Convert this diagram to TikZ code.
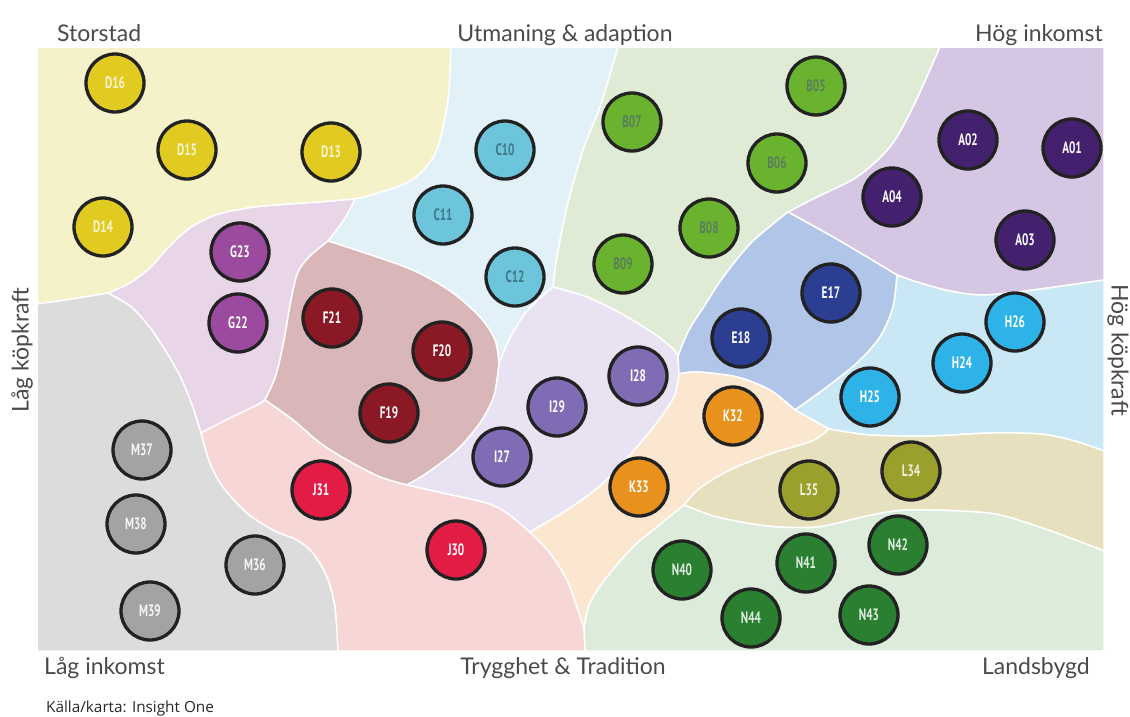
\documentclass[tikz,border=0pt]{standalone}
\usepackage{fontspec}
\newfontfamily\axisfont{Lato}
\newfontfamily\circfont[FakeStretch=0.68]{PT Sans Bold}
\newfontfamily\srcfont{Open Sans}

\definecolor{rD}{HTML}{F5F2C9}
\definecolor{rC}{HTML}{E2F1F8}
\definecolor{rB}{HTML}{E0EBD6}
\definecolor{rA}{HTML}{D5C6E3}
\definecolor{rG}{HTML}{E9D5E8}
\definecolor{rF}{HTML}{D9B6B7}
\definecolor{rI}{HTML}{E8E2F2}
\definecolor{rE}{HTML}{B0C5E8}
\definecolor{rH}{HTML}{C9E7F5}
\definecolor{rK}{HTML}{FBE7D0}
\definecolor{rL}{HTML}{E6E0BE}
\definecolor{rN}{HTML}{DDEBDA}
\definecolor{rJ}{HTML}{F7D6D6}
\definecolor{rM}{HTML}{DCDCDC}

\definecolor{cD}{HTML}{E1CB21}
\definecolor{cG}{HTML}{9C4A9E}
\definecolor{cF}{HTML}{8A1825}
\definecolor{cC}{HTML}{6CC5DB}
\definecolor{cB}{HTML}{6AB32E}
\definecolor{cA}{HTML}{44216F}
\definecolor{cE}{HTML}{2C3E91}
\definecolor{cH}{HTML}{2EB3E8}
\definecolor{cI}{HTML}{7F6CB5}
\definecolor{cK}{HTML}{E8911C}
\definecolor{cJ}{HTML}{E31C45}
\definecolor{cL}{HTML}{9B9F2B}
\definecolor{cN}{HTML}{2A7F30}
\definecolor{cM}{HTML}{A3A3A3}
\definecolor{tB}{HTML}{5A7D5C}
\definecolor{tC}{HTML}{3F7688}
\definecolor{ring}{HTML}{222222}
\definecolor{axis}{HTML}{4A4A4A}

\tikzset{
  zone/.style={draw=white, line width=1.5pt, line join=round},
  seg/.style={circle, minimum size=58pt, inner sep=0pt, line width=3.3pt,
    draw=ring, text=white, font=\circfont\fontsize{16.5}{16.5}\selectfont},
  grpD/.style={seg, fill=cD, text=white!80!cD},
  grpG/.style={seg, fill=cG},
  grpF/.style={seg, fill=cF},
  grpC/.style={seg, fill=cC, text=tC},
  grpB/.style={seg, fill=cB, text=tB},
  grpA/.style={seg, fill=cA},
  grpE/.style={seg, fill=cE},
  grpH/.style={seg, fill=cH},
  grpI/.style={seg, fill=cI},
  grpK/.style={seg, fill=cK},
  grpJ/.style={seg, fill=cJ},
  grpL/.style={seg, fill=cL, text=white!85!cL},
  grpN/.style={seg, fill=cN, text=white!85!cN},
  grpM/.style={seg, fill=cM, text=white!90!cM},
  axislabel/.style={text=axis, font=\axisfont\fontsize{23}{23}\selectfont, inner sep=0pt}
}

\begin{document}
\begin{tikzpicture}[x=1pt, y=-1pt]
  \useasboundingbox (0,0) rectangle (1130,716);

  % zones
  \fill[rD, zone] (37,47)
    -- plot[smooth] coordinates {(451,47) (448,100) (436,152) (412,180) (375,194) (355,199)}
    -- plot[smooth] coordinates {(355,199) (320,202) (255,207) (216,215) (190,228) (168,248) (150,268) (130,283) (108,293)}
    -- plot[smooth] coordinates {(108,293) (72,299) (37,304)} -- cycle;
  \fill[rC, zone] (451,47)
    -- plot[smooth] coordinates {(618,47) (600,107) (583,150) (567,207) (557,257) (553,287)}
    -- plot[smooth] coordinates {(553,287) (528,310) (510,338) (499,364)}
    -- plot[smooth] coordinates {(499,364) (495,340) (480,317) (453,293) (425,276) (400,265) (362,252) (328,241)}
    -- plot[smooth] coordinates {(328,241) (345,218) (355,199)}
    -- plot[smooth] coordinates {(355,199) (375,194) (412,180) (436,152) (448,100) (451,47)} -- cycle;
  \fill[rB, zone] (618,47)
    -- plot[smooth] coordinates {(940,47) (913,107) (890,147) (857,177) (817,197) (788,212)}
    -- plot[smooth] coordinates {(788,212) (752,242) (724,276) (705,305) (689,330) (678,356)}
    -- plot[smooth] coordinates {(678,356) (672,348) (653,333) (620,313) (587,297) (553,287)}
    -- plot[smooth] coordinates {(553,287) (557,257) (567,207) (583,150) (600,107) (618,47)} -- cycle;
  \fill[rA, zone] (940,47) -- (1104,47)
    -- plot[smooth] coordinates {(1104,280) (1033,290) (983,295) (950,291) (920,283) (897,275)}
    -- plot[smooth] coordinates {(897,275) (867,257) (833,237) (788,212)}
    -- plot[smooth] coordinates {(788,212) (817,197) (857,177) (890,147) (913,107) (940,47)} -- cycle;
  \fill[rG, zone]
    plot[smooth] coordinates {(355,199) (345,218) (328,241)}
    -- plot[smooth] coordinates {(328,241) (310,256) (298,272) (291,300) (284,340) (276,375) (265,400)}
    -- plot[smooth] coordinates {(265,400) (257,405) (230,418) (201,433)}
    -- plot[smooth] coordinates {(201,433) (192,405) (180,376) (165,350) (148,325) (130,306) (108,293)}
    -- plot[smooth] coordinates {(108,293) (130,283) (150,268) (168,248) (190,228) (216,215) (255,207) (320,202) (355,199)} -- cycle;
  \fill[rF, zone]
    plot[smooth] coordinates {(328,241) (362,252) (400,265) (425,276) (453,293) (480,317) (495,340) (499,364)}
    -- plot[smooth] coordinates {(499,364) (494,396) (480,423) (457,450) (427,473) (407,485)}
    -- plot[smooth] coordinates {(407,485) (380,477) (347,460) (320,443) (293,420) (265,400)}
    -- plot[smooth] coordinates {(265,400) (276,375) (284,340) (291,300) (298,272) (310,256) (328,241)} -- cycle;
  \fill[rM, zone] (37,304) -- (37,651)
    -- plot[smooth] coordinates {(338,651) (335,607) (327,577) (313,553) (297,540) (273,530) (247,513) (223,487) (210,463) (201,433)}
    -- plot[smooth] coordinates {(201,433) (192,405) (180,376) (165,350) (148,325) (130,306) (108,293)}
    -- plot[smooth] coordinates {(108,293) (72,299) (37,304)} -- cycle;
  \fill[rJ, zone]
    plot[smooth] coordinates {(201,433) (210,463) (223,487) (247,513) (273,530) (297,540) (313,553) (327,577) (335,607) (338,651)}
    -- (585,651) -- (584,628)
    -- plot[smooth] coordinates {(584,628) (578,610) (567,580) (550,553) (530,532)}
    -- plot[smooth] coordinates {(530,532) (507,513) (487,503) (443,493) (407,485)}
    -- plot[smooth] coordinates {(407,485) (380,477) (347,460) (320,443) (293,420) (265,400)}
    -- plot[smooth] coordinates {(265,400) (257,405) (230,418) (201,433)} -- cycle;
  \fill[rI, zone]
    plot[smooth] coordinates {(499,364) (494,396) (480,423) (457,450) (427,473) (407,485)}
    -- plot[smooth] coordinates {(407,485) (443,493) (487,503) (507,513) (530,532)}
    -- plot[smooth] coordinates {(530,532) (567,510) (600,486) (630,455) (655,425) (674,397) (679,374)}
    -- (678,356)
    -- plot[smooth] coordinates {(678,356) (672,348) (653,333) (620,313) (587,297) (553,287)}
    -- plot[smooth] coordinates {(553,287) (528,310) (510,338) (499,364)} -- cycle;
  \fill[rE, zone]
    plot[smooth] coordinates {(788,212) (752,242) (724,276) (705,305) (689,330) (678,356)}
    -- (679,374)
    -- plot[smooth] coordinates {(679,374) (697,372) (737,377) (770,390) (795,410)}
    -- plot[smooth] coordinates {(795,410) (827,387) (857,363) (880,337) (893,307) (897,275)}
    -- plot[smooth] coordinates {(897,275) (867,257) (833,237) (788,212)} -- cycle;
  \fill[rH, zone]
    plot[smooth] coordinates {(897,275) (920,283) (950,291) (983,295) (1033,290) (1104,280)}
    -- (1104,451)
    -- plot[smooth] coordinates {(1104,451) (1075,441) (1040,434) (990,433) (930,436) (870,435) (829,429)}
    -- (795,410)
    -- plot[smooth] coordinates {(795,410) (827,387) (857,363) (880,337) (893,307) (897,275)} -- cycle;
  \fill[rK, zone]
    plot[smooth] coordinates {(679,374) (697,372) (737,377) (770,390) (795,410)}
    -- (829,429)
    -- plot[smooth] coordinates {(829,429) (812,441) (770,454) (730,470) (700,488) (684,505)}
    -- plot[smooth] coordinates {(684,505) (657,527) (633,547) (607,577) (590,603) (584,628)}
    -- plot[smooth] coordinates {(584,628) (578,610) (567,580) (550,553) (530,532)}
    -- plot[smooth] coordinates {(530,532) (567,510) (600,486) (630,455) (655,425) (674,397) (679,374)} -- cycle;
  \fill[rL, zone]
    plot[smooth] coordinates {(829,429) (870,435) (930,436) (990,433) (1040,434) (1075,441) (1104,451)}
    -- (1104,551)
    -- plot[smooth] coordinates {(1104,551) (1051,531) (1000,515) (960,511) (905,510) (867,516) (817,527) (767,526) (717,517) (684,505)}
    -- plot[smooth] coordinates {(684,505) (700,488) (730,470) (770,454) (812,441) (829,429)} -- cycle;
  \fill[rN, zone]
    plot[smooth] coordinates {(684,505) (717,517) (767,526) (817,527) (867,516) (905,510) (960,511) (1000,515) (1051,531) (1104,551)}
    -- (1104,651) -- (585,651) -- (584,628)
    -- plot[smooth] coordinates {(584,628) (590,603) (607,577) (633,547) (657,527) (684,505)} -- cycle;

  % segments
  \path
    (115,83) node[grpD] (D16) {D16}
    (187,150) node[grpD] (D15) {D15}
    (331,152) node[grpD] (D13) {D13}
    (103,227) node[grpD] (D14) {D14}
    (240,252) node[grpG] (G23) {G23}
    (238,323) node[grpG] (G22) {G22}
    (332,318) node[grpF] (F21) {F21}
    (442,351) node[grpF] (F20) {F20}
    (389,413) node[grpF] (F19) {F19}
    (505,150) node[grpC] (C10) {C10}
    (443,215) node[grpC] (C11) {C11}
    (515,277) node[grpC] (C12) {C12}
    (632,122) node[grpB] (B07) {B07}
    (816,86) node[grpB] (B05) {B05}
    (777,163) node[grpB] (B06) {B06}
    (709,228) node[grpB] (B08) {B08}
    (623,264) node[grpB] (B09) {B09}
    (968,140) node[grpA] (A02) {A02}
    (1072,148) node[grpA] (A01) {A01}
    (892,197) node[grpA] (A04) {A04}
    (1025,240) node[grpA] (A03) {A03}
    (831,293) node[grpE] (E17) {E17}
    (741,338) node[grpE] (E18) {E18}
    (1015,322) node[grpH] (H26) {H26}
    (962,363) node[grpH] (H24) {H24}
    (870,397) node[grpH] (H25) {H25}
    (638,376) node[grpI] (I28) {I28}
    (557,407) node[grpI] (I29) {I29}
    (502,457) node[grpI] (I27) {I27}
    (733,416) node[grpK] (K32) {K32}
    (639,487) node[grpK] (K33) {K33}
    (321,490) node[grpJ] (J31) {J31}
    (456,550) node[grpJ] (J30) {J30}
    (809,490) node[grpL] (L35) {L35}
    (911,471) node[grpL] (L34) {L34}
    (682,570) node[grpN] (N40) {N40}
    (806,563) node[grpN] (N41) {N41}
    (898,545) node[grpN] (N42) {N42}
    (751,618) node[grpN] (N44) {N44}
    (869,615) node[grpN] (N43) {N43}
    (142,450) node[grpM] (M37) {M37}
    (136,524) node[grpM] (M38) {M38}
    (255,565) node[grpM] (M36) {M36}
    (150,611) node[grpM] (M39) {M39};

  % axes
  \node[axislabel, anchor=base west] (storstad) at (57,41) {Storstad};
  \node[axislabel, anchor=base] (utmaning) at (565,41) {Utmaning \& adaption};
  \node[axislabel, anchor=base east] (hoginkomst) at (1103,41) {Hög inkomst};
  \node[axislabel, rotate=90] (lagkop) at (22,350) {Låg köpkraft};
  \node[axislabel, rotate=-90] (hogkop) at (1118,350) {Hög köpkraft};
  \node[axislabel, anchor=base west] (laginkomst) at (44,674) {Låg inkomst};
  \node[axislabel, anchor=base] (trygghet) at (563,674) {Trygghet \& Tradition};
  \node[axislabel, anchor=base east] (landsbygd) at (1090,674) {Landsbygd};
  \node[anchor=base west, inner sep=0pt, font=\srcfont\fontsize{15.3}{15.3}\selectfont, text=black!85] (kalla) at (46,712) {Källa/karta: Insight One};
\end{tikzpicture}
\end{document}
